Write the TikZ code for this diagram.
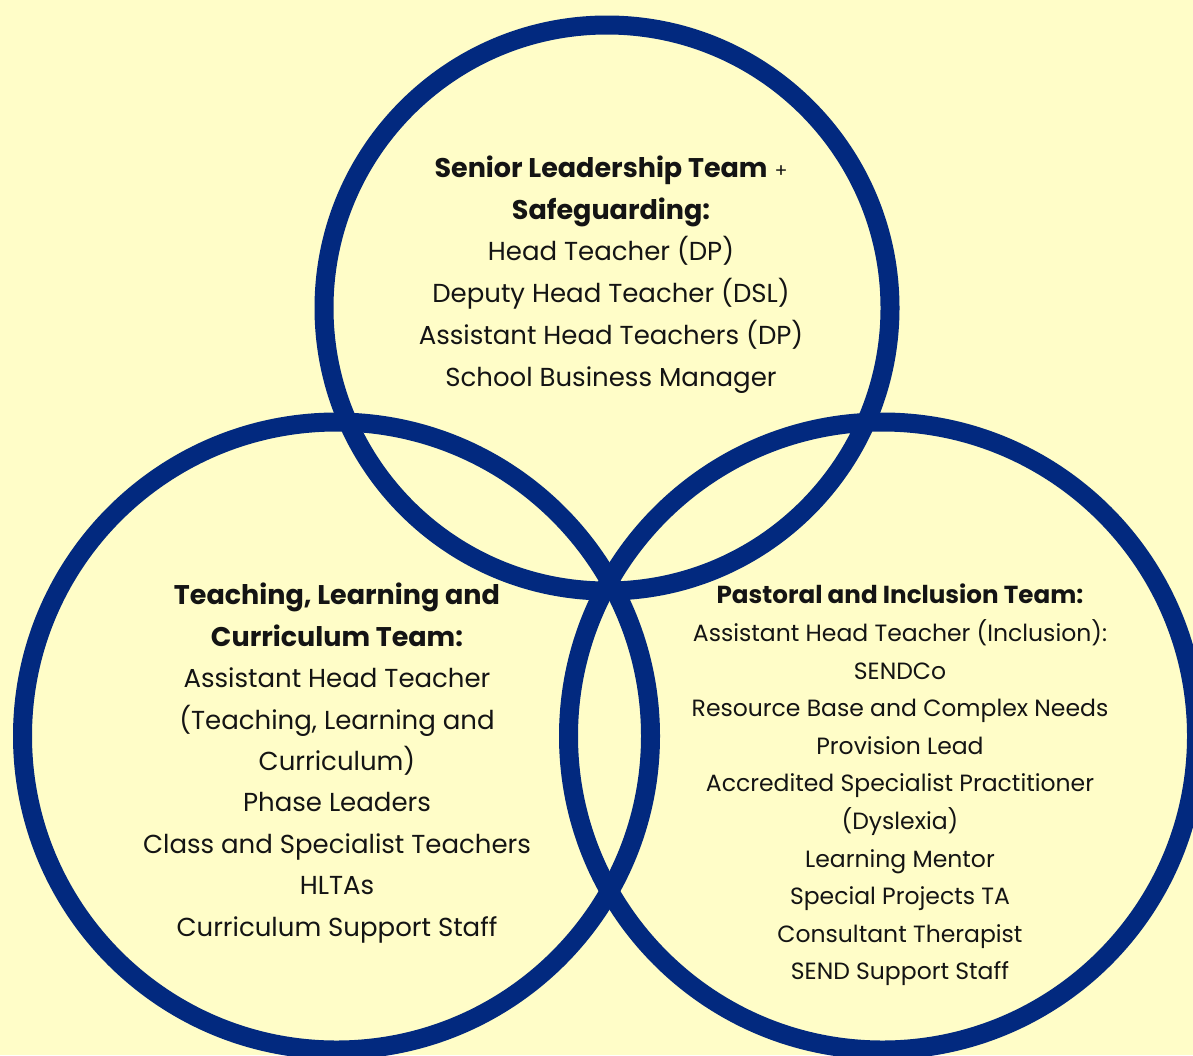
\documentclass[tikz,border=0pt]{standalone}
\usepackage{fontspec}
\setmainfont{Poppins}
\definecolor{bg}{RGB}{255,253,200}
\definecolor{navy}{RGB}{2,41,127}
\definecolor{ink}{RGB}{20,20,20}
\newcommand{\hd}[1]{{\fontsize{27}{10}\selectfont\bfseries #1}}
\newcommand{\hdb}[1]{{\fontsize{24.6}{10}\selectfont\bfseries #1}}
\begin{document}
\begin{tikzpicture}[x=1pt,y=-1pt,
  ring/.style={draw=navy,line width=19pt},
  blockA/.style={align=center,text=ink,inner sep=0pt,font=\fontsize{26}{41.8}\selectfont},
  blockL/.style={align=center,text=ink,inner sep=0pt,font=\fontsize{26}{41.4}\selectfont},
  blockB/.style={align=center,text=ink,inner sep=0pt,font=\fontsize{23.5}{37.6}\selectfont}]
\fill[bg] (0,0) rectangle (1193,1055);
\useasboundingbox (0,0) rectangle (1193,1055);
\clip (0,0) rectangle (1193,1055);
\coordinate (ctop) at (607,308);
\coordinate (cleft) at (336.5,736);
\coordinate (cright) at (882.5,736);
\draw[ring] (ctop) circle (283);
\draw[ring] (cleft) circle (314);
\draw[ring] (cright) circle (314);
\node[blockA] (slt) at (611,274.5) {\hd{Senior Leadership Team} {\fontsize{19}{20}\selectfont+}\\
\hd{Safeguarding:}\\
Head Teacher (DP)\\
Deputy Head Teacher (DSL)\\
Assistant Head Teachers (DP)\\
School Business Manager};
\node[blockL] (tlc) at (337,763) {\hd{Teaching, Learning and}\\
\hd{Curriculum Team:}\\
Assistant Head Teacher\\
(Teaching, Learning and\\
Curriculum)\\
Phase Leaders\\
Class and Specialist Teachers\\
HLTAs\\
Curriculum Support Staff};
\node[blockB] (pit) at (900,785) {\hdb{Pastoral and Inclusion Team:}\\
Assistant Head Teacher (Inclusion):\\
SENDCo\\
Resource Base and Complex Needs\\
Provision Lead\\
Accredited Specialist Practitioner\\
(Dyslexia)\\
Learning Mentor\\
Special Projects TA\\
Consultant Therapist\\
SEND Support Staff};
\end{tikzpicture}
\end{document}
